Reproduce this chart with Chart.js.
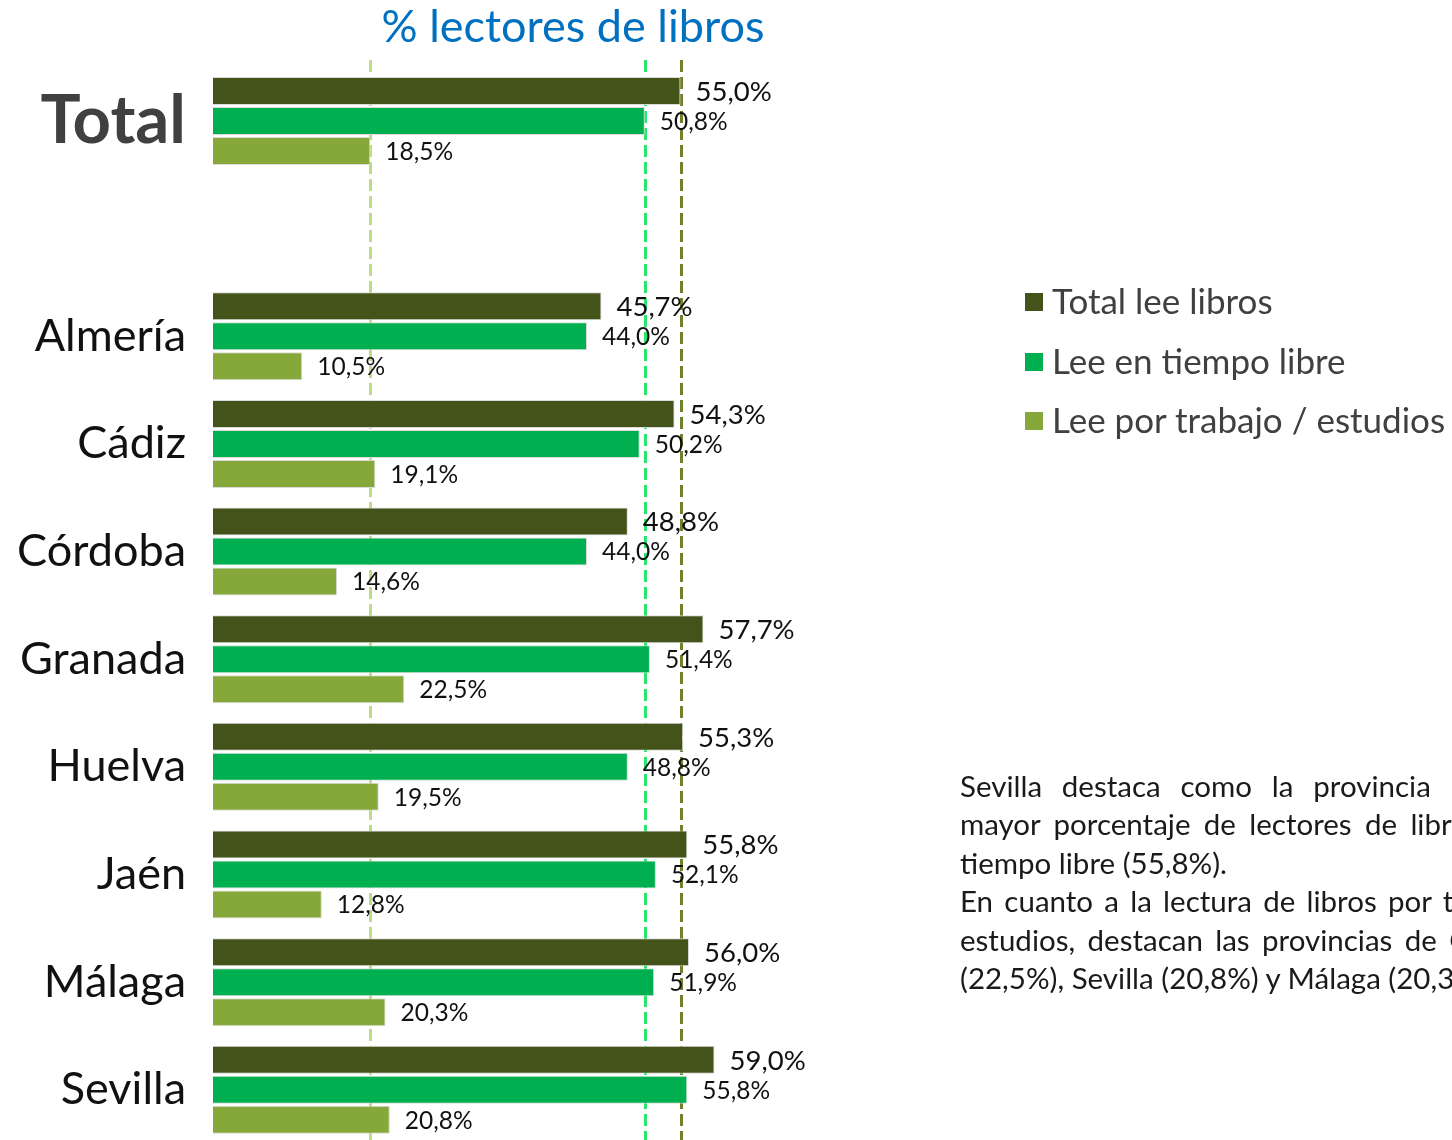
<!DOCTYPE html>
<html lang="es">
<head>
<meta charset="utf-8">
<script src="https://cdn.jsdelivr.net/npm/chart.js@4/dist/chart.umd.min.js"></script>
<style>
  html, body { margin: 0; padding: 0; background: #fff; overflow: hidden; width: 1452px; height: 1140px; }
  #wrap { position: absolute; left: 0; top: 0; width: 1452px; height: 1150px; }
  #title { position: absolute; left: 213px; width: 720px; top: -1px; text-align: center; font-family: Lato, "Open Sans", sans-serif; font-size: 45px; line-height: 52px; color: #0070C0; white-space: nowrap; }
  #legend { position: absolute; left: 1025px; top: 279px; font-family: Lato, "Open Sans", sans-serif; font-size: 35px; color: #404040; white-space: nowrap; }
  #legend .item { height: 59.5px; line-height: 42px; display: flex; align-items: flex-start; }
  #legend .sw { width: 18px; height: 18px; margin-top: 14px; margin-right: 9px; flex: none; }
  #note { position: absolute; left: 960px; top: 767px; width: 598px; font-family: Lato, "Open Sans", sans-serif; font-size: 29.5px; line-height: 38.4px; color: #1a1a1a; white-space: nowrap; }
  #note .j { text-align: justify; text-align-last: justify; white-space: normal; }
</style>
</head>
<body>
<div id="wrap"><canvas id="c" width="1452" height="1150"></canvas></div>
<div id="title"></div>
<div id="legend"></div>
<div id="note">
  <div class="j" style="width:580px">Sevilla destaca como la provincia con el</div>
  <div class="j" style="width:566px">mayor porcentaje de lectores de libros en</div>
  <div>tiempo libre (55,8%).</div>
  <div class="j">En cuanto a la lectura de libros por trabajo /</div>
  <div class="j">estudios, destacan las provincias de Granada</div>
  <div>(22,5%), Sevilla (20,8%) y Málaga (20,3%).</div>
</div>
<script>
const titleText = "% lectores de libros";
const categories = ["Total", "", "Almería", "Cádiz", "Córdoba", "Granada", "Huelva", "Jaén", "Málaga", "Sevilla"];
const seriesNames = ["Total lee libros", "Lee en tiempo libre", "Lee por trabajo / estudios"];
const totalLee = [55.0, null, 45.7, 54.3, 48.8, 57.7, 55.3, 55.8, 56.0, 59.0];
const tiempoLibre = [50.8, null, 44.0, 50.2, 44.0, 51.4, 48.8, 52.1, 51.9, 55.8];
const trabajoEstudios = [18.5, null, 10.5, 19.1, 14.6, 22.5, 19.5, 12.8, 20.3, 20.8];

const barColors = ["#43531A", "#00B050", "#86A83A"];
const refLineColors = ["#6E822A", "#2BE66E", "#BEDC82"];
const labelSizes = [27.5, 24.5, 24.5];

document.getElementById('title').textContent = titleText;

// legend (HTML)
const legendEl = document.getElementById('legend');
seriesNames.forEach((n, i) => {
  const d = document.createElement('div');
  d.className = 'item';
  d.innerHTML = '<span class="sw" style="background:' + barColors[i] + '"></span><span></span>';
  d.lastChild.textContent = n;
  legendEl.appendChild(d);
});

const fmt = v => v.toFixed(1).replace('.', ',') + '%';

const refLinesPlugin = {
  id: 'refLines',
  beforeDatasetsDraw(chart) {
    const ctx = chart.ctx, xs = chart.scales.x;
    ctx.save();
    ctx.lineWidth = 3;
    ctx.setLineDash([12, 5]);
    chart.data.datasets.forEach((ds, i) => {
      const x = Math.round(xs.getPixelForValue(ds.data[0])) + 0.5;
      ctx.strokeStyle = refLineColors[i];
      ctx.beginPath();
      ctx.moveTo(x, 60);
      ctx.lineTo(x, chart.height);
      ctx.stroke();
    });
    ctx.restore();
  }
};

const valueLabelsPlugin = {
  id: 'valueLabels',
  afterDatasetsDraw(chart) {
    const ctx = chart.ctx;
    ctx.save();
    ctx.fillStyle = '#111';
    ctx.textAlign = 'left';
    ctx.textBaseline = 'middle';
    chart.data.datasets.forEach((ds, i) => {
      const meta = chart.getDatasetMeta(i);
      ctx.font = labelSizes[i] + 'px Lato, "Open Sans", sans-serif';
      meta.data.forEach((el, j) => {
        const v = ds.data[j];
        if (v === null || v === undefined) return;
        ctx.fillText(fmt(v), el.x + 15, el.y + 1);
      });
    });
    ctx.restore();
  }
};

new Chart(document.getElementById('c'), {
  type: 'bar',
  data: {
    labels: categories,
    datasets: [
      { label: seriesNames[0], data: totalLee, backgroundColor: barColors[0] },
      { label: seriesNames[1], data: tiempoLibre, backgroundColor: barColors[1] },
      { label: seriesNames[2], data: trabajoEstudios, backgroundColor: barColors[2] }
    ].map(d => Object.assign(d, { borderColor: 'rgba(215,215,215,0.9)', borderWidth: 1, categoryPercentage: 0.836, barPercentage: 0.933 }))
  },
  options: {
    indexAxis: 'y',
    responsive: false,
    animation: false,
    layout: { padding: { left: 0, right: 519, top: 67.2, bottom: 6.4 } },
    plugins: {
      legend: { display: false },
      tooltip: { enabled: false },
      title: { display: false }
    },
    scales: {
      x: { display: false, min: 0, max: 84.7 },
      y: {
        type: 'category',
        grid: { display: false, drawTicks: false },
        border: { display: false },
        afterFit(scale) {
          scale.width = 213;
          scale.paddingTop = 0;
          scale.paddingBottom = 0;
        },
        ticks: {
          autoSkip: false,
          padding: 27,
          color: ctx => ctx.index === 0 ? '#404040' : '#111',
          font: ctx => ctx.index === 0
            ? { family: 'Lato, "Open Sans", sans-serif', size: 67, weight: 'bold' }
            : { family: 'Lato, "Open Sans", sans-serif', size: 45, weight: 'normal' }
        }
      }
    }
  },
  plugins: [refLinesPlugin, valueLabelsPlugin]
});
</script>
</body>
</html>
